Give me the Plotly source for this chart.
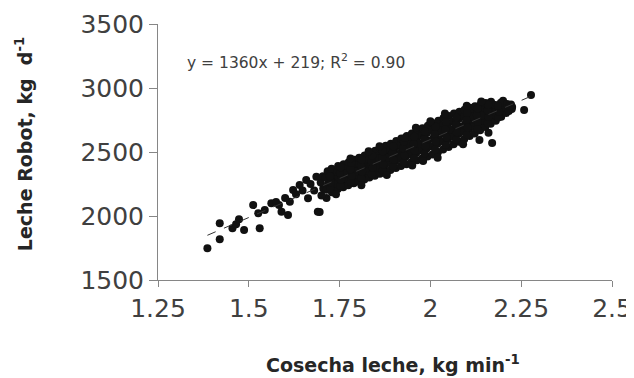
import numpy as np
import plotly.graph_objects as go

# Cosecha leche (kg/min) and Leche Robot (kg/d)
cosecha = [
    1.386, 1.420, 1.420, 1.455, 1.473, 1.487, 1.465, 1.512, 1.526, 1.530,
    1.544, 1.562, 1.583, 1.590, 1.608, 1.613, 1.622, 1.640, 1.663, 1.658,
    1.690, 1.686, 1.600, 1.575, 1.648, 1.670, 1.680, 1.630, 1.714, 1.695,
    2.277, 2.258, 2.225, 2.135, 2.170, 2.200,
    1.700, 1.705, 1.698, 1.704,
    1.714, 1.718, 1.712, 1.717,
    1.729, 1.733, 1.730, 1.734, 1.728,
    1.745, 1.742, 1.747, 1.744, 1.746,
    1.760, 1.758, 1.762, 1.759, 1.761,
    1.774, 1.772, 1.776, 1.773, 1.775,
    1.789, 1.787, 1.791, 1.788, 1.790,
    1.803, 1.801, 1.805, 1.802, 1.804,
    1.818, 1.816, 1.820, 1.817, 1.819,
    1.832, 1.830, 1.834, 1.831, 1.833,
    1.847, 1.845, 1.849, 1.846, 1.848,
    1.861, 1.859, 1.863, 1.860, 1.862,
    1.876, 1.874, 1.878, 1.875, 1.877,
    1.890, 1.888, 1.892, 1.889, 1.891,
    1.905, 1.903, 1.907, 1.904, 1.906,
    1.919, 1.917, 1.921, 1.918, 1.920,
    1.934, 1.932, 1.936, 1.933, 1.935,
    1.948, 1.946, 1.950, 1.947, 1.949,
    1.963, 1.961, 1.965, 1.962, 1.964,
    1.977, 1.975, 1.979, 1.976, 1.978,
    1.992, 1.990, 1.994, 1.991, 1.993,
    2.006, 2.004, 2.008, 2.005, 2.007,
    2.021, 2.019, 2.023, 2.020, 2.022,
    2.035, 2.033, 2.037, 2.034, 2.036,
    2.050, 2.048, 2.052, 2.049, 2.051,
    2.064, 2.062, 2.066, 2.063, 2.065,
    2.079, 2.077, 2.081, 2.078, 2.080,
    2.093, 2.091, 2.095, 2.092, 2.094,
    2.108, 2.106, 2.110, 2.107, 2.109,
    2.122, 2.120, 2.124, 2.121, 2.123,
    2.137, 2.135, 2.139, 2.136, 2.138,
    2.151, 2.149, 2.153, 2.150, 2.152,
    2.166, 2.164, 2.168, 2.165, 2.167,
    2.180, 2.178, 2.182, 2.179,
    2.195, 2.193, 2.197, 2.194,
    2.209, 2.207, 2.211,
    2.224, 2.222,
    1.755, 1.795, 1.838, 1.882, 1.925, 1.968, 2.012, 2.056, 2.099, 2.142,
    1.767, 1.811, 1.853, 1.897, 1.940, 1.984, 2.027, 2.071, 2.114, 2.158,
    1.724, 1.726, 1.723,
    1.752, 1.754, 1.751, 1.753,
    1.781, 1.783, 1.780, 1.782,
    1.810, 1.812, 1.809, 1.811,
    1.839, 1.841, 1.838, 1.840,
    1.868, 1.870, 1.867, 1.869,
    1.897, 1.899, 1.896, 1.898,
    1.926, 1.928, 1.925, 1.927,
    1.955, 1.957, 1.954, 1.956,
    1.984, 1.986, 1.983, 1.985,
    2.013, 2.015, 2.012, 2.014,
    2.042, 2.044, 2.041, 2.043,
    2.071, 2.073, 2.070, 2.072,
    2.100, 2.102, 2.099, 2.101,
    2.129, 2.131, 2.128, 2.130,
    2.158, 2.160, 2.157, 2.159,
    2.187, 2.189, 2.186,
    2.216, 2.218,
    1.780, 1.860, 1.930, 2.000, 2.040, 2.100, 2.140, 1.960, 1.830,
    1.740, 1.810, 1.880, 1.950, 2.020, 2.090, 2.160, 1.980,
]
leche = [
    1748, 1818, 1943, 1904, 1974, 1890, 1935, 2086, 2021, 1904,
    2047, 2099, 2086, 2034, 2008, 2112, 2203, 2242, 2138, 2281,
    2034, 2307, 2140, 2110, 2200, 2250, 2200, 2170, 2141, 2031,
    2945, 2828, 2852, 2594, 2570, 2900,
    2160, 2215, 2262, 2310,
    2205, 2250, 2300, 2350,
    2185, 2230, 2275, 2320, 2370,
    2210, 2255, 2300, 2345, 2390,
    2225, 2270, 2315, 2362, 2405,
    2240, 2285, 2330, 2378, 2420,
    2255, 2300, 2348, 2395, 2440,
    2270, 2318, 2365, 2410, 2455,
    2285, 2335, 2383, 2430, 2472,
    2300, 2350, 2400, 2445, 2490,
    2315, 2365, 2415, 2462, 2510,
    2330, 2380, 2432, 2480, 2528,
    2345, 2398, 2450, 2500, 2548,
    2360, 2415, 2468, 2518, 2565,
    2375, 2430, 2485, 2538, 2585,
    2390, 2448, 2502, 2555, 2605,
    2405, 2462, 2520, 2575, 2625,
    2420, 2480, 2538, 2592, 2645,
    2435, 2495, 2555, 2612, 2665,
    2450, 2512, 2572, 2630, 2685,
    2465, 2528, 2590, 2650, 2705,
    2480, 2545, 2608, 2668, 2725,
    2500, 2565, 2628, 2688, 2745,
    2520, 2582, 2645, 2705, 2765,
    2540, 2600, 2662, 2722, 2782,
    2560, 2620, 2680, 2740, 2800,
    2580, 2640, 2698, 2758, 2815,
    2600, 2658, 2715, 2775, 2830,
    2625, 2680, 2735, 2792, 2845,
    2645, 2700, 2752, 2808, 2858,
    2670, 2722, 2772, 2825, 2870,
    2695, 2742, 2790, 2840, 2882,
    2720, 2765, 2808, 2852, 2893,
    2745, 2788, 2828, 2868,
    2775, 2812, 2848, 2884,
    2805, 2840, 2875,
    2835, 2872,
    2290, 2345, 2400, 2455, 2510, 2565, 2620, 2675, 2730, 2785,
    2335, 2395, 2450, 2505, 2560, 2615, 2670, 2725, 2780, 2830,
    2215, 2262, 2310,
    2235, 2285, 2335, 2380,
    2265, 2315, 2365, 2415,
    2295, 2345, 2395, 2440,
    2325, 2378, 2425, 2470,
    2355, 2405, 2458, 2505,
    2385, 2440, 2492, 2545,
    2418, 2475, 2530, 2582,
    2452, 2510, 2565, 2620,
    2488, 2545, 2602, 2660,
    2520, 2580, 2640, 2698,
    2555, 2615, 2675, 2735,
    2595, 2655, 2712, 2770,
    2635, 2692, 2750, 2805,
    2680, 2735, 2790, 2840,
    2725, 2775, 2825, 2870,
    2770, 2815, 2860,
    2820, 2860,
    2450, 2545, 2610, 2740, 2800, 2862, 2895, 2690, 2505,
    2170, 2240, 2320, 2395, 2455, 2560, 2650, 2430,
]

x_ticks = [1.25, 1.5, 1.75, 2, 2.25, 2.5]
x_tick_labels = ["1.25", "1.5", "1.75", "2", "2.25", "2.5"]
y_ticks = [1500, 2000, 2500, 3000, 3500]
equation_text = "y = 1360x + 219; R<sup>2</sup> = 0.90"
x_title = "<b>Cosecha leche, kg min<sup>-1</sup></b>"
y_title = "<b>Leche Robot, kg  d<sup>-1</sup></b>"

xs = np.array(cosecha)
ys = np.array(leche)
slope, intercept = np.polyfit(xs, ys, 1)
fit_x = np.array([xs.min(), xs.max()])
fit_y = slope * fit_x + intercept

FONT = "DejaVu Sans"
TXT = "#404040"

fig = go.Figure()
fig.add_trace(go.Scatter(
    x=cosecha, y=leche, mode="markers",
    marker=dict(symbol="circle", size=8, color="#111111", line=dict(width=0)),
    showlegend=False, hoverinfo="skip",
))
fig.add_trace(go.Scatter(
    x=fit_x, y=fit_y, mode="lines",
    line=dict(color="#333333", width=1, dash="dash"),
    showlegend=False, hoverinfo="skip",
))

fig.add_annotation(
    x=0.059, y=0.852, xref="paper", yref="paper", xanchor="left", yanchor="middle",
    text=equation_text, showarrow=False,
    font=dict(family=FONT, size=15.5, color=TXT),
)
fig.add_annotation(
    x=0.518, y=-0.383, xref="paper", yref="paper", xanchor="center", yanchor="bottom",
    text=x_title, showarrow=False,
    font=dict(family=FONT, size=19, color="#262626"),
)
fig.add_annotation(
    x=-0.295, y=0.531, xref="paper", yref="paper", xanchor="center", yanchor="middle",
    text=y_title, showarrow=False, textangle=-90,
    font=dict(family=FONT, size=19, color="#262626"),
)

# the page body adds an 8 px offset, so the figure is 8 px smaller and shifted
fig.update_layout(
    width=626, height=370,
    margin=dict(l=150, r=22, t=16, b=98),
    paper_bgcolor="white", plot_bgcolor="white",
    font=dict(family=FONT, color=TXT),
    xaxis=dict(
        range=[1.25, 2.5], tickvals=x_ticks, ticktext=x_tick_labels,
        showgrid=False, zeroline=False, automargin=False,
        showline=True, linecolor="#868686", linewidth=1,
        ticks="outside", ticklen=6, tickcolor="#868686",
        tickfont=dict(family=FONT, size=25, color=TXT),
    ),
    yaxis=dict(
        range=[1500, 3500], tickvals=y_ticks,
        showgrid=False, zeroline=False, automargin=False,
        showline=True, linecolor="#868686", linewidth=1,
        ticks="outside", ticklen=8, tickcolor="#868686",
        tickfont=dict(family=FONT, size=25, color=TXT),
    ),
)

fig.write_html("out.html")
